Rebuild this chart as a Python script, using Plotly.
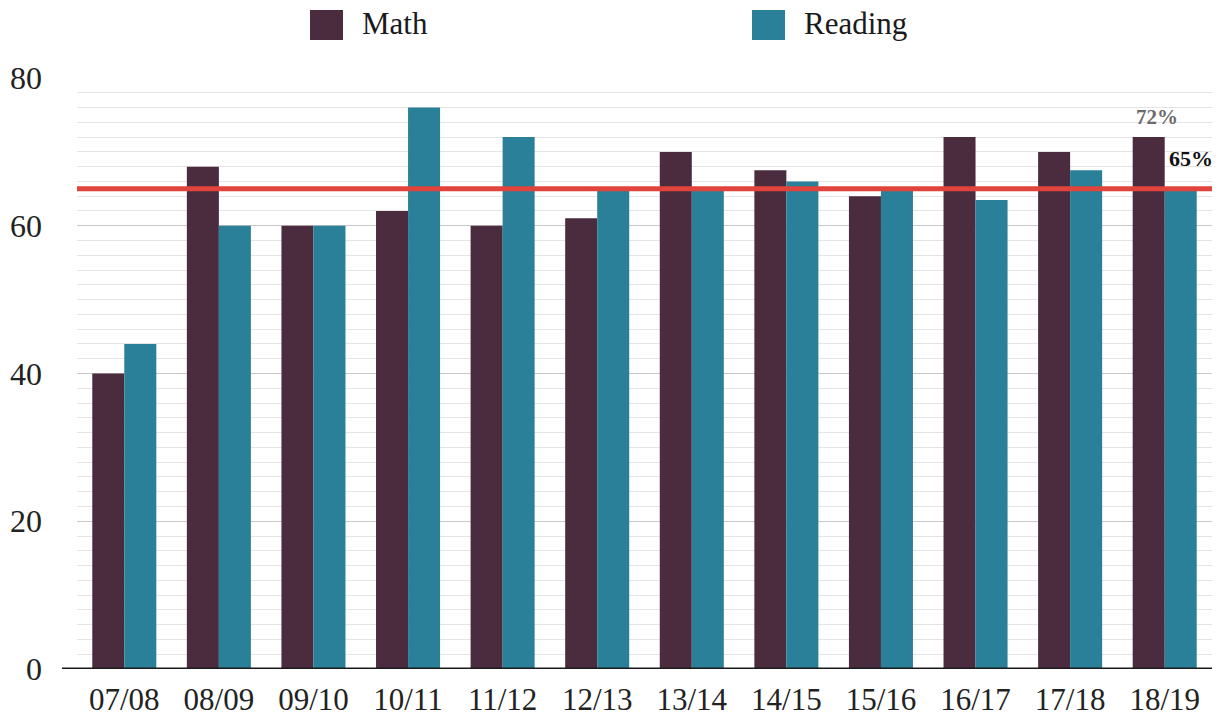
import plotly.graph_objects as go

years = ["07/08", "08/09", "09/10", "10/11", "11/12", "12/13",
         "13/14", "14/15", "15/16", "16/17", "17/18", "18/19"]
math = [40, 68, 60, 62, 60, 61, 70, 67.5, 64, 72, 70, 72]
reading = [44, 60, 60, 76, 72, 65, 65, 66, 65, 63.5, 67.5, 65]
target = 65
y_ticks = [0, 20, 40, 60, 80]

MATH_C = "#4b2c3e"
READ_C = "#2a8098"
FONT = "Liberation Serif"

L, R, T, B = 77, 7, 78, 52
PW, PH = 1219 - L - R, 721 - T - B

fig = go.Figure()
fig.add_trace(go.Bar(x=years, y=math, name="Math", marker_color=MATH_C,
                     marker_line_width=0, showlegend=False))
fig.add_trace(go.Bar(x=years, y=reading, name="Reading", marker_color=READ_C,
                     marker_line_width=0, showlegend=False))

# target line
fig.add_shape(type="line", xref="paper", x0=0, x1=1, yref="y", y0=target, y1=target,
              line=dict(color="#e0443c", width=5), layer="above")
# baseline (extends a bit left of the plot)
fig.add_shape(type="line", xref="paper", x0=-15 / PW, x1=1, yref="y", y0=0, y1=0,
              line=dict(color="#1a1a1a", width=3), layer="above")

# value labels
fig.add_annotation(x=years[-1], y=math[-1], text="<b>72%</b>", showarrow=False,
                   xshift=-8, yshift=20, font=dict(family=FONT, size=21, color="#6b6b6b"))
fig.add_annotation(xref="paper", x=1.0, y=target, text="<b>65%</b>", showarrow=False,
                   xanchor="right", yanchor="bottom", yshift=16, xshift=3,
                   font=dict(family=FONT, size=22, color="#111111"))

# legend (custom, at top)
for x0, label, col in [(310, "Math", MATH_C), (752, "Reading", READ_C)]:
    fig.add_shape(type="rect", xref="paper", yref="paper",
                  x0=(x0 - L) / PW, x1=(x0 + 33 - L) / PW,
                  y0=1 + (T - 40) / PH, y1=1 + (T - 10) / PH,
                  fillcolor=col, line_width=0)
    fig.add_annotation(xref="paper", yref="paper", x=(x0 + 50 - L) / PW,
                       y=1 + (T - 24) / PH, text=label, showarrow=False,
                       xanchor="left", yanchor="middle",
                       font=dict(family=FONT, size=31, color="#1a1a1a"))

fig.update_layout(
    width=1219, height=721,
    margin=dict(l=L, r=R, t=T, b=B),
    paper_bgcolor="white", plot_bgcolor="white",
    barmode="group", bargap=0.323, bargroupgap=0,
    font=dict(family=FONT, size=30, color="#222222"),
    xaxis=dict(range=[-0.5, 11.5], showgrid=False, showline=False, automargin=False,
               ticks="", ticklabelstandoff=9, tickfont=dict(family=FONT, size=31)),
    yaxis=dict(range=[0, 80], tickvals=y_ticks, showgrid=True, gridcolor="#c8c8c8",
               gridwidth=1, zeroline=False, showline=False, ticks="", automargin=False,
               ticklabelstandoff=34, tickfont=dict(family=FONT, size=32),
               minor=dict(dtick=2, showgrid=True, gridcolor="#e4e4e4", gridwidth=1)),
)

fig.write_html("out.html", config={"displayModeBar": False},
               post_script="document.body.style.margin='0';")
